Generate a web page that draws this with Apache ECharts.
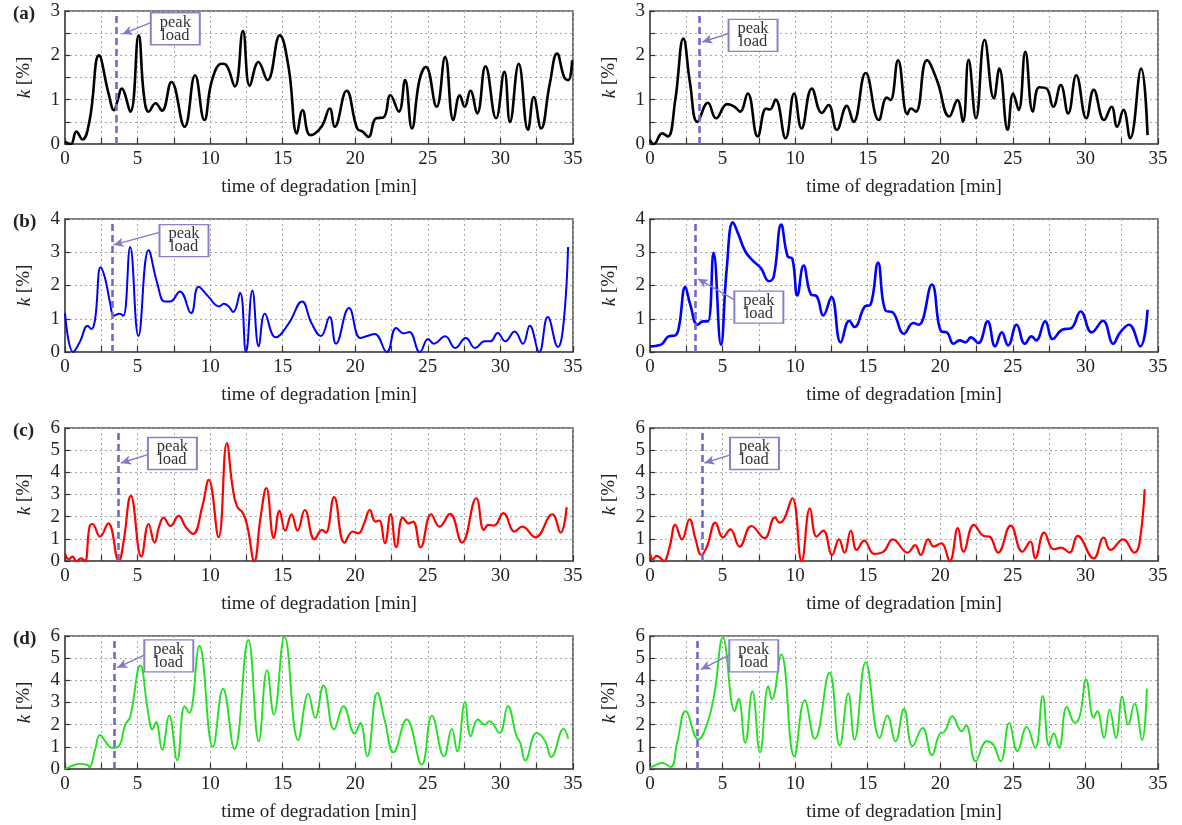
<!DOCTYPE html>
<html><head><meta charset="utf-8">
<script src="https://cdn.jsdelivr.net/npm/echarts@6/dist/echarts.min.js"></script>
<style>html,body{margin:0;padding:0;background:#fff}#c{width:1182px;height:825px}</style>
</head><body><div id="c"></div>
<script>
// ---- data: [time (min), k (%)] ----
const kA1 = [[0,0.05],[0.4,0],[0.78,0.28],[1.2,0.1],[1.7,0.54],[2.34,2.0],[3.0,1.14],[3.38,0.76],[3.64,1.0],[3.9,1.25],[4.5,0.73],[5.07,2.45],[5.45,1.06],[5.77,0.73],[6.24,0.92],[6.68,0.75],[7.33,1.4],[8.24,0.39],[8.96,1.55],[9.6,0.54],[10.13,1.44],[10.8,1.81],[11.04,1.8],[11.7,1.3],[12.26,2.55],[12.73,1.31],[13.33,1.85],[13.95,1.44],[14.8,2.45],[15.4,1.74],[15.98,0.24],[16.37,0.76],[16.9,0.2],[17.67,0.39],[18.24,0.8],[18.58,0.39],[19.4,1.2],[20.13,0.35],[20.5,0.28],[20.9,0.16],[21.43,0.58],[21.95,0.6],[22.42,1.1],[23.0,0.73],[23.43,1.44],[23.9,0.35],[24.42,1.44],[24.86,1.74],[25.6,0.84],[26.19,1.96],[26.76,0.54],[27.2,1.1],[27.54,0.84],[27.93,1.2],[28.4,0.69],[28.97,1.75],[29.7,0.58],[30.27,1.63],[30.66,0.5],[31.26,1.81],[31.9,0.32],[32.3,1.06],[32.8,0.35],[33.4,1.36],[33.9,2.04],[34.4,1.5],[34.68,1.44],[34.94,1.89]];
const kA2 = [[0,0.09],[0.26,0],[0.84,0.24],[1.23,0.17],[1.74,0.99],[2.3,2.38],[2.76,1.37],[3.27,0.5],[3.99,0.93],[4.55,0.58],[5.32,0.9],[5.83,0.84],[6.2,0.73],[6.73,1.14],[7.42,0.17],[8.0,0.8],[8.26,0.78],[8.65,1.0],[9.34,0.13],[9.93,1.14],[10.44,0.35],[11.15,1.25],[11.84,0.7],[12.3,0.88],[12.87,0.32],[13.56,0.86],[14.02,0.5],[14.86,1.6],[15.76,0.54],[16.32,1.05],[16.57,0.99],[17.09,1.89],[17.73,0.67],[17.98,0.8],[18.32,0.73],[19.08,1.89],[19.77,1.44],[20.62,0.62],[21.18,0.99],[21.56,0.5],[21.95,1.9],[22.46,0.58],[23.05,2.35],[23.69,1.03],[24.07,1.7],[24.64,0.32],[25.02,1.14],[25.4,0.77],[25.86,2.08],[26.38,0.73],[26.81,1.28],[27.32,1.25],[27.78,0.84],[28.3,1.33],[28.81,0.69],[29.37,1.55],[30.06,0.58],[30.57,1.22],[31.29,0.54],[31.8,0.84],[32.18,0.39],[32.62,0.77],[33.08,0.13],[33.84,1.7],[34.28,0.2]];
const kB1 = [[0,1.17],[0.57,0],[1.04,0.32],[1.56,0.79],[1.81,0.69],[2.07,0.97],[2.46,2.55],[2.77,2.2],[3.11,1.47],[3.37,1.09],[3.76,1.15],[4.02,1.09],[4.49,3.16],[5.06,0.48],[5.76,3.06],[6.35,2.08],[6.87,1.52],[7.26,1.52],[7.91,1.82],[8.69,1.17],[9.2,1.96],[9.85,1.68],[10.63,1.37],[10.94,1.45],[11.28,1.37],[11.59,1.2],[12.06,1.78],[12.47,0],[12.91,1.85],[13.35,0.17],[13.77,1.15],[14.52,0.44],[15.43,0.87],[16.33,1.52],[16.98,0.87],[17.63,0.48],[18.23,1.05],[18.67,0.25],[19.57,1.32],[20.35,0.42],[20.87,0.49],[21.34,0.54],[22.17,0],[22.82,0.72],[23.33,0.56],[23.72,0.6],[24.45,0],[25.02,0.39],[25.41,0.25],[26.19,0.47],[26.89,0.12],[27.61,0.42],[28.26,0.12],[28.91,0.32],[29.3,0.32],[29.82,0.57],[30.33,0.32],[30.98,0.62],[31.55,0.25],[32.02,0.79],[32.67,0],[33.26,1.05],[33.96,0.15],[34.35,0.87],[34.66,3.16]];
const kB2 = [[0,0.17],[0.46,0.19],[0.85,0.25],[1.28,0.47],[1.74,0.5],[2.0,0.77],[2.43,1.95],[2.77,1.43],[3.28,0.82],[3.66,0.92],[3.99,0.92],[4.38,2.98],[4.89,0.22],[5.28,2.47],[5.71,3.9],[6.1,3.53],[6.56,3.03],[7.12,2.73],[7.63,2.53],[8.2,2.13],[8.53,2.28],[9.04,3.83],[9.48,2.88],[9.81,2.8],[10.15,1.7],[10.58,2.6],[11.09,1.73],[11.48,1.68],[11.94,1.1],[12.5,1.65],[13.14,0.29],[13.73,0.94],[14.09,0.75],[14.81,1.37],[15.19,1.42],[15.71,2.68],[16.22,1.25],[16.73,1.19],[17.5,0.55],[18.14,0.87],[18.52,0.82],[19.42,2.03],[20.06,0.62],[20.45,0.59],[20.91,0.25],[21.34,0.35],[21.73,0.29],[22.11,0.44],[22.62,0.27],[23.26,0.92],[23.78,0.17],[24.24,0.59],[24.67,0.2],[25.26,0.82],[25.83,0.25],[26.29,0.47],[26.6,0.35],[27.23,0.92],[27.75,0.39],[28.39,0.67],[29.03,0.72],[29.67,1.22],[30.44,0.59],[31.21,0.94],[31.92,0.25],[32.36,0.57],[33.0,0.82],[33.77,0.17],[34.28,1.27]];
const kC1 = [[0,0.35],[0.26,0.08],[0.52,0.2],[0.78,0],[1.11,0.12],[1.37,0],[1.69,1.55],[1.89,1.67],[2.41,1.1],[2.98,1.7],[3.71,0],[4.02,0.8],[4.54,2.94],[5.26,0.2],[5.76,1.67],[6.17,0.83],[6.48,1.55],[6.79,1.96],[7.26,1.58],[7.83,2.04],[8.3,1.55],[8.82,1.22],[9.46,2.46],[9.9,3.66],[10.58,1.07],[11.15,5.32],[11.54,3.36],[11.85,2.46],[12.26,2.16],[12.57,1.55],[13.04,0],[13.48,2.0],[13.87,3.29],[14.39,1.03],[14.78,2.26],[15.17,1.37],[15.61,2.11],[16.02,1.37],[16.52,2.3],[17.19,0.98],[17.71,1.4],[17.97,1.28],[18.54,2.88],[19.26,0.83],[19.83,1.33],[20.22,1.25],[20.61,1.7],[21.0,2.3],[21.39,1.78],[21.65,1.82],[22.04,0.8],[22.43,2.11],[22.82,0.62],[23.28,1.97],[23.67,1.7],[23.98,1.78],[24.5,0.62],[25.23,2.11],[25.8,1.55],[26.52,2.13],[27.35,0.83],[28.34,2.83],[28.86,1.4],[29.17,1.63],[29.56,1.6],[30.2,2.16],[30.98,1.33],[31.5,1.55],[32.41,1.07],[33.57,2.11],[34.15,1.28],[34.56,2.43]];
const kC2 = [[0,0.35],[0.2,0.08],[0.46,0.23],[0.85,0.05],[0.97,0],[1.36,0.65],[1.74,1.63],[2.2,0.98],[2.72,1.88],[3.15,0.95],[3.54,0.27],[3.92,0.65],[4.51,1.73],[5.02,1.06],[5.53,1.43],[6.17,0.65],[6.99,1.58],[7.89,1.03],[8.61,1.97],[8.92,1.73],[9.23,1.88],[9.81,2.83],[10.45,0],[11.02,2.38],[11.48,1.1],[11.94,1.37],[12.55,0.27],[13.02,0.98],[13.4,0.38],[13.84,1.36],[14.24,0.5],[14.76,0.92],[15.45,0.32],[16.09,0.42],[16.73,0.98],[17.75,0.38],[18.27,0.72],[18.65,0.27],[19.17,0.98],[19.55,0.65],[20.06,0.8],[20.65,0],[21.21,1.48],[21.6,0.42],[22.32,1.63],[23.0,1.13],[23.39,1.1],[23.98,0.38],[24.85,1.6],[25.65,0.42],[26.21,0.87],[26.54,0.12],[27.16,1.28],[27.82,0.53],[28.33,0.6],[28.9,0.38],[29.46,1.13],[30.57,0.12],[31.26,1.06],[31.72,0.5],[32.61,0.98],[33.38,0.38],[33.72,0.8],[34.08,3.24]];
const kD1 = [[0,0],[0.52,0.15],[1.04,0.23],[1.56,0.18],[1.69,0.08],[2.07,0.87],[2.41,1.54],[2.85,1.18],[3.24,0.95],[3.71,1.03],[4.15,2.0],[4.49,2.35],[5.19,4.67],[5.7,2.68],[6.02,1.78],[6.27,2.11],[6.69,0.87],[7.18,2.41],[7.73,0.39],[8.24,2.83],[8.56,2.53],[9.26,5.55],[10.19,1.0],[10.89,3.62],[11.67,0.9],[12.63,5.82],[13.35,1.25],[13.92,4.46],[14.39,2.46],[15.12,5.97],[16.07,1.3],[16.77,3.39],[17.24,2.31],[17.81,3.77],[18.54,1.78],[19.19,2.83],[19.96,1.6],[20.35,2.08],[20.82,0.57],[21.52,3.44],[22.04,2.16],[22.63,0.75],[23.54,2.23],[24.58,0.2],[25.28,2.41],[26.11,0.57],[26.65,1.81],[27.02,0.8],[27.56,3.02],[27.95,1.48],[28.44,2.23],[28.91,2.0],[29.24,2.16],[29.94,1.63],[30.51,2.83],[31.11,1.48],[31.37,1.18],[31.71,0.39],[32.49,1.63],[33.06,1.28],[33.5,0.54],[34.36,1.81],[34.67,1.36]];
const kD2 = [[0,0.05],[0.46,0.2],[0.85,0.27],[1.43,0.09],[1.87,1.18],[2.46,2.61],[3.33,1.33],[3.92,2.0],[4.43,3.36],[5.02,5.92],[5.84,2.61],[6.1,3.17],[6.56,1.18],[7.05,3.51],[7.58,0.75],[8.15,3.74],[8.4,3.14],[9.04,5.17],[9.94,0.57],[10.66,3.1],[11.35,1.36],[12.37,4.34],[13.07,1.06],[13.66,3.41],[14.09,1.33],[14.86,4.82],[15.83,1.4],[16.35,2.41],[16.91,1.25],[17.5,2.71],[18.09,1.03],[18.78,1.85],[19.42,0.62],[19.93,1.55],[20.32,1.7],[20.83,2.38],[21.47,1.7],[21.78,1.96],[22.44,0.35],[23.21,1.25],[23.64,1.1],[24.16,0.35],[24.75,2.08],[25.31,0.8],[25.95,1.9],[26.54,0.95],[27.06,3.29],[27.49,1.06],[27.82,1.6],[28.18,0.95],[28.72,2.8],[29.28,2.08],[29.62,2.41],[30.05,4.04],[30.57,2.31],[30.82,2.61],[31.28,1.4],[31.67,2.68],[32.1,1.4],[32.54,3.26],[32.95,2.0],[33.38,2.95],[33.9,1.3],[34.23,3.63]];

// peak-load annotation per panel: [dashed-line time, box centre (t,k), arrow start (t,k), arrow end (t,k)]
const peakA1 = [3.5, [7.6, 2.6], [6.0, 2.75], [3.95, 2.48]];
const peakA2 = [3.4, [7.1, 2.45], [5.5, 2.5], [3.6, 2.3]];
const peakB1 = [3.24, [8.2, 3.35], [6.5, 3.6], [3.35, 3.22]];
const peakB2 = [3.15, [7.5, 1.35], [6.1, 1.5], [3.3, 2.2]];
const peakC1 = [3.68, [7.4, 4.85], [5.7, 4.8], [3.85, 4.42]];
const peakC2 = [3.59, [7.2, 4.85], [5.6, 4.8], [3.75, 4.42]];
const peakD1 = [3.37, [7.15, 5.1], [5.5, 5.15], [3.6, 4.57]];
const peakD2 = [3.28, [7.15, 5.1], [5.5, 5.15], [3.5, 4.49]];

const panelLabels = ['(a)', '(b)', '(c)', '(d)'];
const xName = 'time of degradation [min]';
const yName = '{i|k} [%]';

const SERIF = 'Liberation Serif';
const panels = [
  {d:kA1, pk:peakA1, c:'#000000', w:2.6, ymax:3, yint:0.5, col:0, row:0},
  {d:kA2, pk:peakA2, c:'#000000', w:2.6, ymax:3, yint:0.5, col:1, row:0},
  {d:kB1, pk:peakB1, c:'#0000ff', w:2.0, ymax:4, yint:1, col:0, row:1},
  {d:kB2, pk:peakB2, c:'#0000ff', w:2.6, ymax:4, yint:1, col:1, row:1},
  {d:kC1, pk:peakC1, c:'#ff0000', w:2.2, ymax:6, yint:1, col:0, row:2},
  {d:kC2, pk:peakC2, c:'#ff0000', w:2.2, ymax:6, yint:1, col:1, row:2},
  {d:kD1, pk:peakD1, c:'#22e022', w:1.9, ymax:6, yint:1, col:0, row:3},
  {d:kD2, pk:peakD2, c:'#22e022', w:1.9, ymax:6, yint:1, col:1, row:3}
];
const tops = [11, 219, 428, 636];
const lefts = [65, 650];
const PW = 508, PH = 133;
const PURPLE = '#7468c8';

const grid = [], xAxis = [], yAxis = [], series = [], title = [];
panels.forEach((p, i) => {
  grid.push({left: lefts[p.col], top: tops[p.row], width: PW, height: PH, show: true,
    borderColor: '#555', borderWidth: 1.6, backgroundColor: 'transparent'});
  xAxis.push({type: 'value', gridIndex: i, min: 0, max: 35, interval: 2.5,
    name: xName, nameLocation: 'middle', nameGap: 34,
    nameTextStyle: {fontFamily: SERIF, fontSize: 19, color: '#222'},
    axisLine: {show: true, onZero: false, lineStyle: {color: '#555', width: 1.6}},
    axisTick: {show: true, inside: true, length: 6, lineStyle: {color: '#333', width: 1.2}},
    axisLabel: {fontFamily: SERIF, fontSize: 19, color: '#222', margin: 6,
      formatter: v => (Math.abs(v % 5) < 1e-9 ? String(v) : '')},
    splitLine: {show: true, lineStyle: {color: '#a8a8a8', type: [2, 3], width: 1}}});
  yAxis.push({type: 'value', gridIndex: i, min: 0, max: p.ymax, interval: p.yint,
    name: yName, nameLocation: 'middle', nameGap: 31, nameRotate: 90,
    nameTextStyle: {fontFamily: SERIF, fontSize: 19, color: '#222',
      rich: {i: {fontFamily: SERIF, fontSize: 19, fontStyle: 'italic', color: '#222'}}},
    axisLine: {show: true, lineStyle: {color: '#555', width: 1.6}},
    axisTick: {show: true, inside: true, length: 5, lineStyle: {color: '#333', width: 1.2}},
    axisLabel: {fontFamily: SERIF, fontSize: 19, color: '#222', margin: 5,
      formatter: v => (Math.abs(v - Math.round(v)) < 1e-9 ? String(Math.round(v)) : '')},
    splitLine: {show: true, lineStyle: {color: '#a8a8a8', type: [2, 3], width: 1}}});
  const pk = p.pk;
  series.push({type: 'line', xAxisIndex: i, yAxisIndex: i, data: p.d, smooth: 0.45,
    showSymbol: false, symbol: 'none', lineStyle: {color: p.c, width: p.w}, z: 3,
    markLine: {silent: true, symbol: ['none', 'none'], animation: false, label: {show: false},
      data: [
        [{coord: [pk[0], 0], lineStyle: {color: PURPLE, type: [7, 4], width: 2.6}},
         {coord: [pk[0], p.ymax]}],
        [{coord: pk[2], lineStyle: {color: '#8479c9', type: 'solid', width: 1.4}},
         {coord: pk[3], symbol: 'arrow', symbolSize: [7, 10]}]
      ]},
    markPoint: {silent: true, animation: false,
      data: [{coord: pk[1], symbol: 'rect', symbolSize: [49, 32],
        itemStyle: {color: '#ffffff', borderColor: '#8a80c8', borderWidth: 1.6},
        label: {show: true, position: 'inside', formatter: 'peak\nload',
          fontFamily: SERIF, fontSize: 16.5, lineHeight: 13, color: '#333'}}]}
  });
  if (p.col === 0) {
    title.push({text: panelLabels[p.row], left: 8, top: tops[p.row] - 11,
      textStyle: {fontFamily: SERIF, fontSize: 19, fontWeight: 'bold', color: '#222'}});
  }
});

const chart = echarts.init(document.getElementById('c'), null, {renderer: 'canvas'});
chart.setOption({animation: false, backgroundColor: '#fff', title, grid, xAxis, yAxis, series});
</script></body></html>
